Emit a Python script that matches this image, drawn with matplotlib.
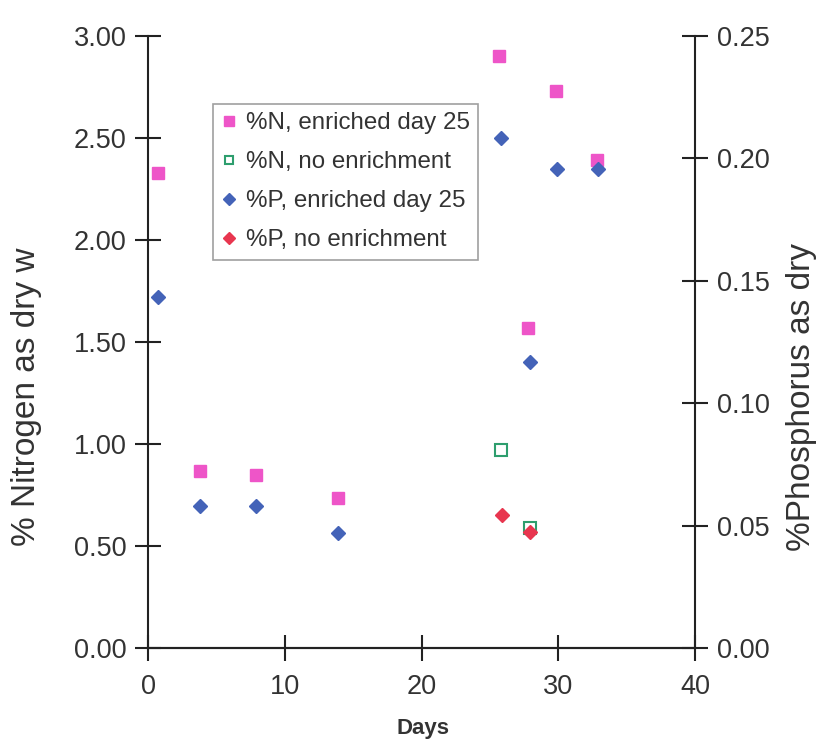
import numpy as np
import matplotlib
matplotlib.use('Agg')
import matplotlib.pyplot as plt

plt.rcParams['font.family'] = ['Liberation Sans', 'DejaVu Sans']

# datos
days_n_enr = [0.7, 3.8, 7.9, 13.9, 25.7, 27.8, 29.8, 32.8]
n_enr = [2.33, 0.87, 0.85, 0.735, 2.90, 1.57, 2.73, 2.39]
days_n_no = [25.8, 27.9]
n_no = [0.97, 0.59]
days_p_enr = [0.7, 3.8, 7.9, 13.9, 25.8, 27.9, 29.9, 32.9]
p_enr = [0.1434, 0.058, 0.058, 0.047, 0.2083, 0.117, 0.1957, 0.1957]
days_p_no = [25.9, 27.9]
p_no = [0.0543, 0.0474]

txt = '#333333'
pink = '#ee55c8'
green = '#2e9e6e'
blue = '#4463b8'
red = '#e8364f'

fig = plt.figure(figsize=(8.16, 7.4), dpi=100)
ax = fig.add_axes([148/816, 92/740, 547/816, 612/740])
ax2 = ax.twinx()

h1, = ax.plot(days_n_enr, n_enr, 's', color=pink, ms=9, mec=pink, label='%N, enriched day 25')
h2, = ax.plot(days_n_no, n_no, 's', mfc='none', mec=green, mew=1.5, ms=8, label='%N, no enrichment')
h3, = ax2.plot(days_p_enr, p_enr, 'D', color=blue, ms=7.5, label='%P, enriched day 25')
h4, = ax2.plot(days_p_no, p_no, 'D', color=red, ms=7.5, label='%P, no enrichment')

ax.set_xlim(0, 40)
ax.set_ylim(0, 3.0)
ax2.set_ylim(0, 0.25)
ax.set_xticks(np.arange(0, 41, 10))
ax.set_yticks(np.arange(0, 3.01, 0.5))
ax.set_yticklabels(['%.2f' % v for v in np.arange(0, 3.01, 0.5)])
ax2.set_yticks(np.arange(0, 0.251, 0.05))
ax2.set_yticklabels(['%.2f' % v for v in np.arange(0, 0.251, 0.05)])

for a in (ax, ax2):
    a.spines['top'].set_visible(False)
    for s in a.spines.values():
        s.set_color('#222222')
        s.set_linewidth(1.5)
    a.tick_params(direction='inout', length=19, width=1.5, color='#222222',
                  labelsize=19.5, labelcolor=txt, pad=6)
ax.tick_params(axis='x', pad=9)
ax2.spines['left'].set_visible(False)
ax.spines['right'].set_visible(False)

ax.set_xlabel('Days', fontsize=16, fontweight='bold', color=txt)
ax.xaxis.set_label_coords(0.503, -0.114)
ax.set_ylabel('% Nitrogen as dry w', fontsize=24, color=txt)
ax.yaxis.set_label_coords(-0.194, 0.41)
ax2.set_ylabel('%Phosphorus as dry', fontsize=24, color=txt)
ax2.yaxis.set_label_coords(1.166, 0.41)

leg = ax2.legend(handles=[h1, h2, h3, h4], loc='upper left',
                 bbox_to_anchor=((213-148)/547, (648-104)/612),
                 fontsize=17.4, frameon=True, fancybox=False, markerscale=0.75,
                 handlelength=0.6, handletextpad=0.4, borderpad=0.35,
                 labelspacing=0.7, borderaxespad=0)
leg.get_frame().set_edgecolor('#888888')
leg.get_frame().set_linewidth(1.2)
for t in leg.get_texts():
    t.set_color(txt)

fig.savefig('out.png', dpi=100)
